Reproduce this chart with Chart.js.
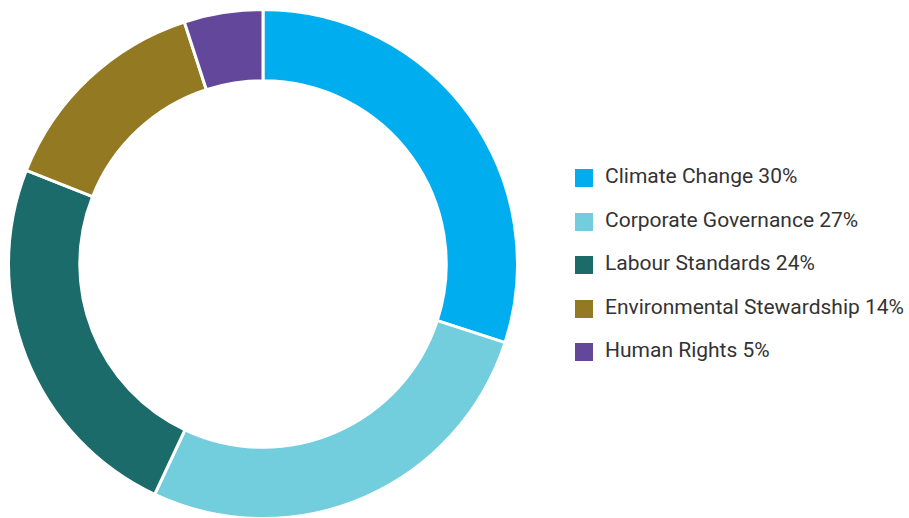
<!DOCTYPE html>
<html>
<head>
<meta charset="utf-8">
<script src="https://cdn.jsdelivr.net/npm/chart.js@4"></script>
<style>
  body { margin: 0; background: #fff; width: 909px; height: 518px; position: relative; overflow: hidden; }
  #wrap { position: absolute; left: 7px; top: 8px; width: 512px; height: 512px; }
  #legend { position: absolute; left: 575px; top: 164px; font-family: "Liberation Sans Narrow", "Roboto", sans-serif; font-size: 21px; color: #333; }
  .item { height: 43.5px; display: flex; align-items: flex-start; }
  .box { width: 18px; height: 18px; margin-top: 5px; margin-right: 12px; }
</style>
</head>
<body>
<div id="wrap"><canvas id="donut"></canvas></div>
<div id="legend"></div>
<script>
'use strict';

//Chart data
var categories = ['Climate Change', 'Corporate Governance', 'Labour Standards', 'Environmental Stewardship', 'Human Rights'];
var shares = [30, 27, 24, 14, 5];
var colours = ['#00aeef', '#72cedd', '#1b6b6b', '#937a22', '#63479b'];

//Build legend
var legend = document.getElementById('legend');
categories.forEach(function(name, i) {
    var row = document.createElement('div');
    row.className = 'item';
    var box = document.createElement('span');
    box.className = 'box';
    box.style.background = colours[i];
    var label = document.createElement('span');
    label.textContent = name + ' ' + shares[i] + '%';
    row.appendChild(box);
    row.appendChild(label);
    legend.appendChild(row);
});

//Create chart
var ctx = document.getElementById('donut');
var myChart = new Chart(ctx, {
    type: 'doughnut',
    data: {
        labels: categories,
        datasets: [
            {
                data: shares,
                backgroundColor: colours,
                borderColor: '#ffffff',
                borderWidth: 3,
                hoverOffset: 0
            }
        ]
    },
    options: {
        responsive: true,
        maintainAspectRatio: false,
        animation: false,
        cutout: '72%',
        layout: { padding: 0 },
        plugins: {
            legend: { display: false },
            tooltip: { enabled: false }
        }
    }
});
</script>
</body>
</html>
